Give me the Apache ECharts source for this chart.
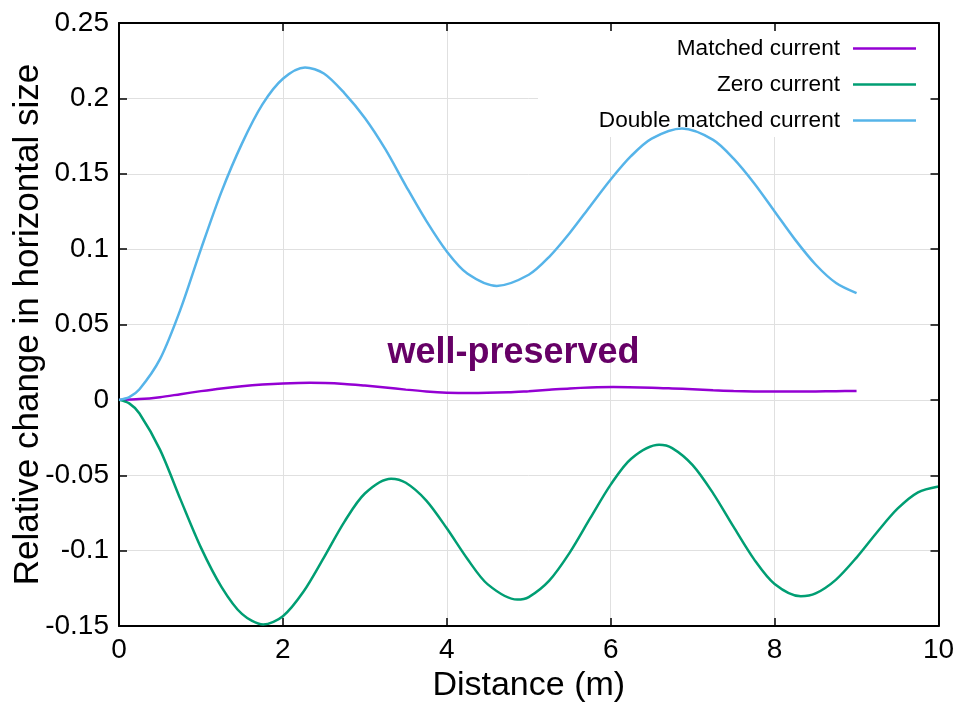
<!DOCTYPE html>
<html>
<head>
<meta charset="utf-8">
<script src="https://cdn.jsdelivr.net/npm/echarts@6/dist/echarts.min.js"></script>
<style>
  html, body { margin: 0; padding: 0; background: #fff; }
  #chart { width: 957px; height: 702px; }
</style>
</head>
<body>
<div id="chart"></div>
<script>
// Relative change in horizontal beam size along the line, for three current settings

// Matched current: distance (m) and relative size change
const matchedX = [0, 0.25, 0.5, 0.75, 1, 1.25, 1.5, 1.75, 2, 2.33, 2.75, 3, 3.25, 3.5, 3.75, 4, 4.28, 4.75,
                  5, 5.25, 5.5, 5.75, 6.03, 6.5, 6.75, 7, 7.25, 7.5, 7.75, 8.1, 8.5, 8.75, 9];
const matchedY = [0, 0.0005, 0.0018, 0.0038, 0.0058, 0.0076, 0.0091, 0.0102, 0.0109, 0.0113, 0.0106, 0.0095,
                  0.0082, 0.0068, 0.0056, 0.0048, 0.0045, 0.0050, 0.0058, 0.0067, 0.0076, 0.0082, 0.0085, 0.0081,
                  0.0076, 0.0070, 0.0064, 0.0059, 0.0056, 0.0055, 0.0056, 0.0058, 0.0059];

// Zero current
const zeroX = [0, 0.125, 0.25, 0.5, 0.75, 1, 1.25, 1.5, 1.76, 2, 2.25, 2.5, 2.75, 3, 3.32, 3.5, 3.75, 4, 4.25, 4.5, 4.86,
               5, 5.25, 5.5, 5.75, 6, 6.25, 6.59, 6.75, 7, 7.25, 7.5, 7.75, 8, 8.32, 8.5, 8.75, 9, 9.25, 9.5, 9.75, 10];
const zeroY = [0, -0.0023, -0.009, -0.033, -0.066, -0.098, -0.124, -0.142, -0.149, -0.1435, -0.1273, -0.1046, -0.0809,
               -0.0621, -0.0523, -0.055, -0.0668, -0.0852, -0.1054, -0.1224, -0.1325, -0.1308, -0.1199, -0.1013,
               -0.0785, -0.0562, -0.039, -0.0298, -0.032, -0.0433, -0.062, -0.0843, -0.1058, -0.1221, -0.1303,
               -0.1284, -0.1192, -0.1046, -0.0878, -0.0722, -0.0613, -0.0574];

// Double matched current
const doubleX = [0, 0.125, 0.25, 0.5, 0.75, 1, 1.25, 1.5, 1.75, 2, 2.27, 2.5, 2.75, 3, 3.25, 3.5, 3.75, 4, 4.25, 4.61,
                 5, 5.25, 5.5, 5.75, 6, 6.25, 6.5, 6.87, 7.25, 7.5, 7.75, 8, 8.25, 8.5, 8.75, 9];
const doubleY = [0, 0.0018, 0.007, 0.027, 0.060, 0.100, 0.138, 0.170, 0.196, 0.213, 0.2205, 0.2165, 0.2035, 0.187,
                 0.1663, 0.142, 0.1187, 0.0984, 0.0838, 0.0756, 0.083, 0.0949, 0.1107, 0.1285, 0.1462, 0.1618,
                 0.1733, 0.180, 0.1725, 0.160, 0.1437, 0.125, 0.1063, 0.0898, 0.0775, 0.0708];

const seriesNames = ['Matched current', 'Zero current', 'Double matched current'];
const seriesColors = ['#9400d3', '#009e73', '#56b4e9'];
const xTicks = { min: 0, max: 10, interval: 2 };
const yTicks = { min: -0.15, max: 0.25, interval: 0.05 };

const pairs = (xs, ys) => xs.map((x, i) => [x, ys[i]]);

const FONT = '"Liberation Sans", Arial, Helvetica, sans-serif';
const GRID_COLOR = '#e0e0e0';

const chart = echarts.init(document.getElementById('chart'), null, { renderer: 'canvas' });

const baseAxis = {
  axisLine: { show: true, onZero: false, lineStyle: { color: '#000', width: 2 } },
  axisTick: { show: true, inside: true, length: 8, lineStyle: { color: '#000', width: 1.5 } },
};

const lineSeries = (i, xs, ys) => ({
  name: seriesNames[i], type: 'line', z: 2, data: pairs(xs, ys),
  showSymbol: false, symbol: 'none', smooth: 0.3, color: seriesColors[i],
  lineStyle: { width: 2.5, color: seriesColors[i] },
});

chart.setOption({
  backgroundColor: '#fff',
  animation: false,
  grid: { left: 119, right: 18.5, top: 23, bottom: 76, containLabel: false, outerBoundsMode: 'none' },
  xAxis: [
    Object.assign({}, baseAxis, {
      type: 'value', position: 'bottom', z: 0,
      min: xTicks.min, max: xTicks.max, interval: xTicks.interval,
      axisLabel: { color: '#000', fontSize: 28, fontFamily: FONT, margin: 10 },
      splitLine: { show: true, lineStyle: { color: GRID_COLOR, width: 1 } },
      name: 'Distance (m)', nameLocation: 'middle', nameGap: 43, nameMoveOverlap: false,
      nameTextStyle: { color: '#000', fontSize: 34, fontFamily: FONT },
    }),
    Object.assign({}, baseAxis, {
      type: 'value', position: 'top', z: 3,
      min: xTicks.min, max: xTicks.max, interval: xTicks.interval,
      axisLabel: { show: false }, splitLine: { show: false },
    }),
  ],
  yAxis: [
    Object.assign({}, baseAxis, {
      type: 'value', position: 'left', z: 0,
      min: yTicks.min, max: yTicks.max, interval: yTicks.interval,
      axisLabel: { color: '#000', fontSize: 28, fontFamily: FONT, margin: 10 },
      splitLine: { show: true, lineStyle: { color: GRID_COLOR, width: 1 } },
      name: 'Relative change in horizontal size', nameLocation: 'middle', nameGap: 73, nameMoveOverlap: false,
      nameTextStyle: { color: '#000', fontSize: 35, fontFamily: FONT },
    }),
    Object.assign({}, baseAxis, {
      type: 'value', position: 'right', z: 3,
      min: yTicks.min, max: yTicks.max, interval: yTicks.interval,
      axisLabel: { show: false }, splitLine: { show: false },
    }),
  ],
  legend: {
    orient: 'vertical', right: 36, top: 31, align: 'right',
    icon: 'rect', itemWidth: 63, itemHeight: 2.5, itemGap: 11,
    textStyle: { color: '#000', fontSize: 22.6, fontFamily: FONT, lineHeight: 25, padding: [0, 8, 0, 0] },
    data: seriesNames,
  },
  graphic: [
    // white key box that hides the grid behind the legend
    { type: 'rect', z: 1, silent: true,
      shape: { x: 538, y: 24, width: 399, height: 113 },
      style: { fill: '#fff' } },
    { type: 'text', z: 5, silent: true,
      style: { x: 513.5, y: 353, text: 'well-preserved', align: 'center', verticalAlign: 'middle',
               fill: '#660066', font: 'bold 36px ' + FONT } },
  ],
  series: [
    lineSeries(0, matchedX, matchedY),
    lineSeries(1, zeroX, zeroY),
    lineSeries(2, doubleX, doubleY),
  ],
});
</script>
</body>
</html>
